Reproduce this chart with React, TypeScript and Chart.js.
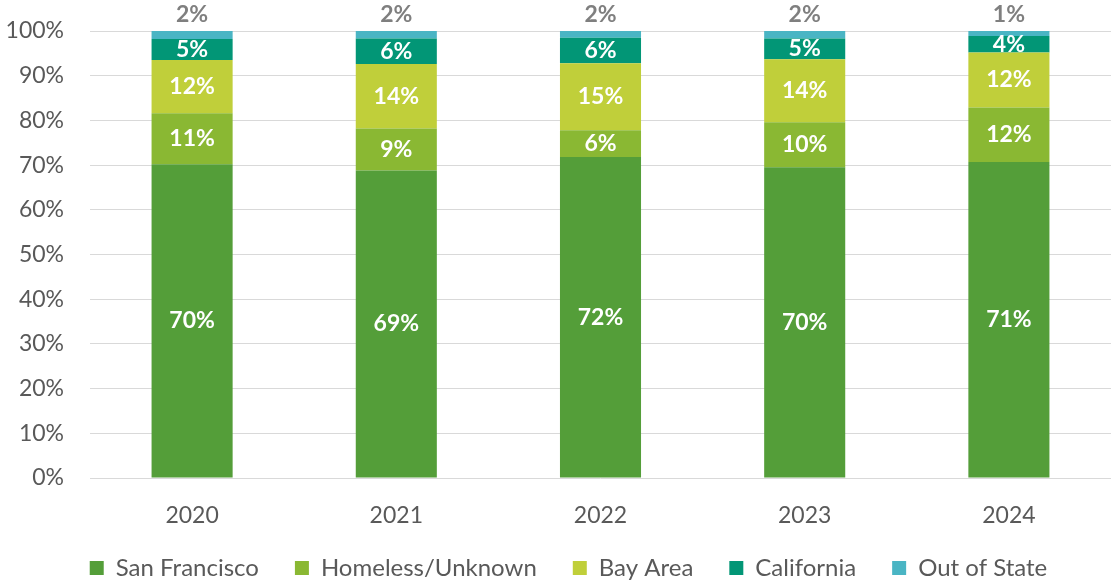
import React, { useEffect, useRef } from "react";
import { Chart, registerables } from "chart.js";

Chart.register(...registerables);

const categories = ["2020", "2021", "2022", "2023", "2024"];
const seriesNames = ["San Francisco", "Homeless/Unknown", "Bay Area", "California", "Out of State"];
const sanFrancisco = [70.2, 68.8, 71.8, 69.5, 70.7];
const homelessUnknown = [11.4, 9.4, 6.0, 10.1, 12.2];
const bayArea = [11.9, 14.4, 15.0, 14.1, 12.3];
const california = [4.7, 5.7, 5.7, 4.6, 3.7];
const outOfState = [1.8, 1.7, 1.5, 1.7, 1.1];
const seriesColors = ["#549E39", "#8AB833", "#C0CF3A", "#029676", "#4AB5C4"];
const yTicks = [0, 10, 20, 30, 40, 50, 60, 70, 80, 90, 100];

const FONT = "Lato, 'Noto Sans', sans-serif";

const labelPlugin = {
  id: "segLabels",
  afterDatasetsDraw(chart: any) {
    const ctx = chart.ctx;
    ctx.save();
    ctx.font = `bold 23px ${FONT}`;
    ctx.textAlign = "center";
    ctx.textBaseline = "middle";
    const n = chart.data.datasets.length;
    chart.data.datasets.forEach((ds: any, i: number) => {
      const meta = chart.getDatasetMeta(i);
      meta.data.forEach((bar: any, j: number) => {
        const v = ds.data[j] as number;
        const txt = Math.round(v) + "%";
        const p = bar.getProps(["x", "y", "base"], true);
        if (i === n - 1) {
          ctx.fillStyle = "#7F7F7F";
          ctx.fillText(txt, p.x, p.y - 16);
        } else {
          ctx.fillStyle = "#FFFFFF";
          ctx.fillText(txt, p.x, (p.y + p.base) / 2);
        }
      });
    });
    ctx.restore();
  },
};

// nudges the legend box to the reference position
const legendPlace = {
  id: "legendPlace",
  afterLayout(chart: any) {
    const lg = chart.legend;
    if (!lg) return;
    lg.top = 520;
    lg.bottom = 582;
    lg.height = 62;
    lg.left += 13;
    lg.right += 13;
  },
};

export default function App() {
  const ref = useRef<HTMLCanvasElement | null>(null);
  useEffect(() => {
    if (!ref.current) return;
    const values = [sanFrancisco, homelessUnknown, bayArea, california, outOfState];
    const chart = new Chart(ref.current, {
      type: "bar",
      data: {
        labels: categories,
        datasets: values.map((d, i) => ({
          label: seriesNames[i],
          data: d,
          backgroundColor: seriesColors[i],
          borderWidth: 0,
          categoryPercentage: 1,
          barPercentage: 0.397,
        })),
      },
      options: {
        animation: false,
        responsive: true,
        maintainAspectRatio: false,
        layout: { padding: { top: 31, right: 2, left: 0, bottom: 0 } },
        plugins: {
          tooltip: { enabled: false },
          legend: {
            position: "bottom",
            maxHeight: 40,
            labels: {
              boxWidth: 14,
              boxHeight: 14,
              padding: 36,
              color: "#595959",
              font: { family: FONT, size: 24 },
            },
          },
        },
        scales: {
          x: {
            stacked: true,
            grid: { display: false, drawTicks: false },
            border: { display: false },
            ticks: { color: "#595959", font: { family: FONT, size: 23 }, padding: 24 },
            afterFit: (s: any) => {
              s.height = 64;
              s.paddingLeft = 0;
              s.paddingRight = 0;
            },
          },
          y: {
            stacked: true,
            min: 0,
            max: 100,
            afterBuildTicks: (s: any) => {
              s.ticks = yTicks.map((v) => ({ value: v }));
            },
            grid: { color: "#D9D9D9", lineWidth: 1, drawTicks: false },
            border: { display: false },
            ticks: {
              color: "#595959",
              font: { family: FONT, size: 23 },
              padding: 26,
              callback: (v: any) => v + "%",
            },
            afterFit: (s: any) => {
              s.width = 90;
              s.paddingTop = 0;
              s.paddingBottom = 0;
            },
          },
        },
      },
      plugins: [labelPlugin, legendPlace],
    });
    return () => chart.destroy();
  }, []);
  return (
    <div style={{ position: "absolute", left: 0, top: 0, width: 1113, height: 582 }}>
      <canvas ref={ref} />
    </div>
  );
}
